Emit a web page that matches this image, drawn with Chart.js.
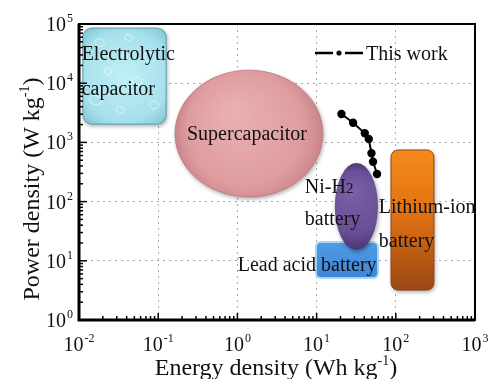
<!DOCTYPE html>
<html>
<head>
<meta charset="utf-8">
<script src="https://cdn.jsdelivr.net/npm/chart.js@4.4.1/dist/chart.umd.min.js"></script>
<style>
  html, body { margin: 0; padding: 0; background: #fff; }
  #wrap { width: 489px; height: 379px; }
</style>
</head>
<body>
<div id="wrap"><canvas id="ragone" width="489" height="379"></canvas></div>
<script>
// Ragone plot - regions (Wh/kg, W/kg)
const techNames = ['Electrolytic capacitor', 'Supercapacitor', 'Lead acid battery', 'Ni-H2 battery', 'Lithium-ion battery'];
const energyMin = [0.0112, 0.163, 10.1, 17, 87];
const energyMax = [0.126, 12, 58, 59.6, 303];
const powerMin = [2040, 120, 5.3, 15.2, 3.2];
const powerMax = [85000, 16600, 20, 449, 745];

// "This work" curve
const workEnergy = [20.6, 28.9, 40.6, 45.6, 49.3, 51.6, 58.0];
const workPower = [3020, 2150, 1425, 1140, 655, 472, 292];

// decade ticks
const xTicks = [0.01, 0.1, 1, 10, 100, 1000];
const yTicks = [1, 10, 100, 1000, 10000, 100000];

const SERIF = "'Liberation Serif', 'Times New Roman', serif";

// text annotations, anchored in data units (left/center, baseline)
const notes = [
    { text: 'Electrolytic', x: 0.0108, y: 24700, align: 'left' },
    { text: 'capacitor', x: 0.0108, y: 6320, align: 'left' },
    { text: 'Supercapacitor', x: 1.32, y: 1100, align: 'center' },
    { text: 'Ni-H', sub: '2', x: 7.1, y: 140, align: 'left' },
    { text: 'battery', x: 7.1, y: 40.3, align: 'left' },
    { text: 'Lithium-ion', x: 61, y: 64, align: 'left' },
    { text: 'battery', x: 61, y: 17.1, align: 'left' },
    { text: 'Lead acid battery', x: 1.01, y: 6.73, align: 'left' }
];

function roundedPath(ctx, x0, y0, x1, y1, r) {
    ctx.beginPath();
    ctx.moveTo(x0 + r, y0);
    ctx.arcTo(x1, y0, x1, y1, r);
    ctx.arcTo(x1, y1, x0, y1, r);
    ctx.arcTo(x0, y1, x0, y0, r);
    ctx.arcTo(x0, y0, x1, y0, r);
    ctx.closePath();
}

function ellipsePath(ctx, x0, y0, x1, y1) {
    ctx.beginPath();
    ctx.ellipse((x0 + x1) / 2, (y0 + y1) / 2, (x1 - x0) / 2, (y1 - y0) / 2, 0, 0, Math.PI * 2);
}

function withShadow(ctx) {
    ctx.shadowColor = 'rgba(0,0,0,0.35)';
    ctx.shadowBlur = 4;
    ctx.shadowOffsetX = 1;
    ctx.shadowOffsetY = 2;
}

function noShadow(ctx) {
    ctx.shadowColor = 'transparent';
    ctx.shadowBlur = 0;
    ctx.shadowOffsetX = 0;
    ctx.shadowOffsetY = 0;
}

// "10" with a raised exponent, whole label aligned at px
function drawPower(ctx, exp, px, py, align) {
    ctx.font = '20px ' + SERIF;
    const wBase = ctx.measureText('10').width;
    ctx.font = '12px ' + SERIF;
    const wExp = ctx.measureText(String(exp)).width;
    const total = wBase + 1 + wExp;
    let left = px;
    if (align === 'center') left = px - total / 2;
    if (align === 'right') left = px - total;
    ctx.textAlign = 'left';
    ctx.textBaseline = 'alphabetic';
    ctx.font = '20px ' + SERIF;
    ctx.fillText('10', left, py);
    ctx.font = '12px ' + SERIF;
    ctx.fillText(String(exp), left + wBase + 1, py - 9);
}

function drawTitle(ctx, main, sup, tail, cx, baseline) {
    ctx.font = '24px ' + SERIF;
    const w1 = ctx.measureText(main).width;
    const w3 = ctx.measureText(tail).width;
    ctx.font = '14px ' + SERIF;
    const w2 = ctx.measureText(sup).width;
    let left = cx - (w1 + w2 + w3) / 2;
    ctx.textAlign = 'left';
    ctx.textBaseline = 'alphabetic';
    ctx.font = '24px ' + SERIF;
    ctx.fillText(main, left, baseline);
    ctx.font = '14px ' + SERIF;
    ctx.fillText(sup, left + w1, baseline - 10);
    ctx.font = '24px ' + SERIF;
    ctx.fillText(tail, left + w1 + w2, baseline);
}

const shapesPlugin = {
    id: 'ragoneShapes',
    beforeDatasetsDraw(chart) {
        const { ctx, scales: { x, y } } = chart;
        ctx.save();
        techNames.forEach((name, i) => {
            const x0 = x.getPixelForValue(energyMin[i]);
            const x1 = x.getPixelForValue(energyMax[i]);
            const y0 = y.getPixelForValue(powerMax[i]);
            const y1 = y.getPixelForValue(powerMin[i]);
            const cx = (x0 + x1) / 2, cy = (y0 + y1) / 2;
            let g;
            if (i === 0) {
                // electrolytic: icy cyan rounded box
                g = ctx.createRadialGradient(cx, cy, 5, cx, cy, (x1 - x0) * 0.75);
                g.addColorStop(0, '#bdeef5');
                g.addColorStop(0.7, '#a6e0ec');
                g.addColorStop(1, '#7fc4d4');
                withShadow(ctx);
                roundedPath(ctx, x0, y0, x1, y1, 9);
                ctx.fillStyle = g;
                ctx.fill();
                noShadow(ctx);
                ctx.strokeStyle = '#6aa6b6';
                ctx.lineWidth = 1.2;
                ctx.stroke();
                // a little droplet texture
                ctx.save();
                roundedPath(ctx, x0, y0, x1, y1, 9);
                ctx.clip();
                ctx.strokeStyle = 'rgba(255,255,255,0.55)';
                ctx.lineWidth = 1;
                [[0.2, 0.15, 5], [0.55, 0.1, 4], [0.8, 0.3, 6], [0.3, 0.45, 4], [0.65, 0.55, 5],
                 [0.15, 0.75, 6], [0.45, 0.85, 4], [0.85, 0.8, 5], [0.5, 0.3, 3]].forEach(b => {
                    ctx.beginPath();
                    ctx.ellipse(x0 + b[0] * (x1 - x0), y0 + b[1] * (y1 - y0), b[2], b[2] * 0.75, 0.4, 0, Math.PI * 2);
                    ctx.stroke();
                });
                ctx.restore();
            } else if (i === 1) {
                g = ctx.createRadialGradient(cx - 15, cy - 20, 10, cx, cy, (x1 - x0) / 2);
                g.addColorStop(0, '#e8aeb0');
                g.addColorStop(0.75, '#df9c9f');
                g.addColorStop(1, '#c9858a');
                withShadow(ctx);
                ellipsePath(ctx, x0, y0, x1, y1);
                ctx.fillStyle = g;
                ctx.fill();
                noShadow(ctx);
                ctx.strokeStyle = 'rgba(190,120,125,0.8)';
                ctx.lineWidth = 1;
                ctx.stroke();
            } else if (i === 2) {
                // lead acid: blue box with pale glow
                roundedPath(ctx, x0 - 2, y0 - 2, x1 + 2, y1 + 2, 6);
                ctx.fillStyle = '#a9d6f7';
                ctx.fill();
                g = ctx.createLinearGradient(0, y0, 0, y1);
                g.addColorStop(0, '#4f9be6');
                g.addColorStop(1, '#3f86d8');
                roundedPath(ctx, x0, y0, x1, y1, 4);
                ctx.fillStyle = g;
                ctx.fill();
            } else if (i === 3) {
                g = ctx.createRadialGradient(cx - 5, cy - 15, 3, cx, cy, (y1 - y0) / 2);
                g.addColorStop(0, '#7a5fa6');
                g.addColorStop(0.7, '#684e94');
                g.addColorStop(1, '#4b3672');
                withShadow(ctx);
                ellipsePath(ctx, x0, y0, x1, y1);
                ctx.fillStyle = g;
                ctx.fill();
                noShadow(ctx);
            } else {
                g = ctx.createLinearGradient(0, y0, 0, y1);
                g.addColorStop(0, '#f48a1a');
                g.addColorStop(0.45, '#e27212');
                g.addColorStop(1, '#9a4814');
                withShadow(ctx);
                roundedPath(ctx, x0, y0, x1, y1, 7);
                ctx.fillStyle = g;
                ctx.fill();
                noShadow(ctx);
                ctx.strokeStyle = '#8c4414';
                ctx.lineWidth = 1;
                ctx.stroke();
            }
        });

        // labels
        ctx.fillStyle = '#111';
        ctx.textBaseline = 'alphabetic';
        notes.forEach(n => {
            const px = x.getPixelForValue(n.x);
            const py = y.getPixelForValue(n.y);
            ctx.font = '20px ' + SERIF;
            ctx.textAlign = n.align;
            ctx.fillText(n.text, px, py);
            if (n.sub) {
                const w = ctx.measureText(n.text).width;
                ctx.font = '15px ' + SERIF;
                ctx.textAlign = 'left';
                ctx.fillText(n.sub, px + w, py);
            }
        });
        ctx.restore();
    },
    afterDatasetsDraw(chart) {
        const { ctx, chartArea: a, scales: { x, y } } = chart;
        ctx.save();
        ctx.strokeStyle = '#000';
        ctx.fillStyle = '#000';

        // inward tick marks on bottom and left axes
        ctx.lineWidth = 1.5;
        for (let i = 0; i < xTicks.length; i++) {
            for (let k = 1; k <= 9; k++) {
                const v = xTicks[i] * k;
                if (v > xTicks[xTicks.length - 1]) break;
                const px = x.getPixelForValue(v);
                const len = k === 1 ? 7 : 4;
                ctx.beginPath();
                ctx.moveTo(px, a.bottom);
                ctx.lineTo(px, a.bottom - len);
                ctx.stroke();
            }
        }
        for (let i = 0; i < yTicks.length; i++) {
            for (let k = 1; k <= 9; k++) {
                const v = yTicks[i] * k;
                if (v > yTicks[yTicks.length - 1]) break;
                const py = y.getPixelForValue(v);
                const len = k === 1 ? 8 : 4;
                ctx.beginPath();
                ctx.moveTo(a.left, py);
                ctx.lineTo(a.left + len, py);
                ctx.stroke();
            }
        }

        // frame
        ctx.lineWidth = 2;
        ctx.strokeRect(a.left, a.top, a.right - a.left, a.bottom - a.top);
        ctx.lineWidth = 3;
        ctx.beginPath();
        ctx.moveTo(a.left, a.top);
        ctx.lineTo(a.left, a.bottom);
        ctx.lineTo(a.right, a.bottom);
        ctx.stroke();

        // tick labels
        ctx.fillStyle = '#111';
        xTicks.forEach(v => drawPower(ctx, Math.round(Math.log10(v)), x.getPixelForValue(v), a.bottom + 31, 'center'));
        yTicks.forEach(v => drawPower(ctx, Math.round(Math.log10(v)), a.left - 6, y.getPixelForValue(v) + 7, 'right'));

        // axis titles
        drawTitle(ctx, 'Energy density (Wh kg', '-1', ')', (a.left + a.right) / 2 - 1, a.bottom + 55);
        ctx.save();
        ctx.translate(a.left - 40, (a.top + a.bottom) / 2 + 17);
        ctx.rotate(-Math.PI / 2);
        drawTitle(ctx, 'Power density (W kg', '-1', ')', 0, 0);
        ctx.restore();

        // legend
        const lx = a.right - 160, ly = a.top + 29;
        ctx.lineWidth = 2.5;
        ctx.beginPath();
        ctx.moveTo(lx, ly);
        ctx.lineTo(lx + 18, ly);
        ctx.moveTo(lx + 30, ly);
        ctx.lineTo(lx + 48, ly);
        ctx.stroke();
        ctx.beginPath();
        ctx.arc(lx + 24, ly, 2.6, 0, Math.PI * 2);
        ctx.fill();
        ctx.font = '20px ' + SERIF;
        ctx.textAlign = 'left';
        ctx.fillText(chart.data.datasets[0].label, lx + 51, ly + 7);
        ctx.restore();
    }
};

const workPoints = workEnergy.map((e, i) => ({ x: e, y: workPower[i] }));

new Chart(document.getElementById('ragone'), {
    type: 'scatter',
    data: {
        datasets: [{
            label: 'This work',
            data: workPoints,
            showLine: true,
            borderColor: '#000',
            backgroundColor: '#000',
            borderWidth: 2,
            pointRadius: 3.2,
            pointHoverRadius: 3.2,
            tension: 0
        }]
    },
    options: {
        responsive: false,
        animation: false,
        layout: { padding: { top: 24, right: 14, left: 0, bottom: 0 } },
        plugins: {
            legend: { display: false },
            tooltip: { enabled: false }
        },
        scales: {
            x: {
                type: 'logarithmic',
                min: xTicks[0],
                max: xTicks[xTicks.length - 1],
                afterBuildTicks: s => { s.ticks = xTicks.map(v => ({ value: v })); },
                afterFit: s => { s.height = 59; },
                ticks: { display: false },
                grid: { color: '#a8a8a8', lineWidth: 1, drawTicks: false },
                border: { display: false, dash: [2, 4] }
            },
            y: {
                type: 'logarithmic',
                min: yTicks[0],
                max: yTicks[yTicks.length - 1],
                afterBuildTicks: s => { s.ticks = yTicks.map(v => ({ value: v })); },
                afterFit: s => { s.width = 79; },
                ticks: { display: false },
                grid: { color: '#a8a8a8', lineWidth: 1, drawTicks: false },
                border: { display: false, dash: [2, 4] }
            }
        }
    },
    plugins: [shapesPlugin]
});
</script>
</body>
</html>
